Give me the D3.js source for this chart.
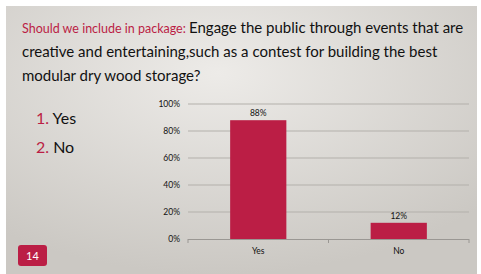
<!DOCTYPE html>
<html>
<head>
<meta charset="utf-8">
<script src="https://cdn.jsdelivr.net/npm/d3@7"></script>
<style>
  body { margin: 0; background: #fff; }
  svg { display: block; }
</style>
</head>
<body>
<script>
const width = 481;
const height = 274;

// data
const categories = ["Yes", "No"];
const values = [88, 12];
const yTicks = [0, 20, 40, 60, 80, 100];
const listItems = ["Yes", "No"];
const titleLines = [
  "Engage the public through events that are",
  "creative and entertaining,such as a contest for building the best",
  "modular dry wood storage?"
];
const red = "#bb1e45";
const font = "Lato, 'Open Sans', sans-serif";

const svg = d3.select("body").append("svg")
  .attr("width", width)
  .attr("height", height);

// 背景グラデーション
const defs = svg.append("defs");
const grad = defs.append("radialGradient")
  .attr("id", "bg")
  .attr("cx", "45%").attr("cy", "25%").attr("r", "75%");
grad.append("stop").attr("offset", "0%").attr("stop-color", "#edebe8");
grad.append("stop").attr("offset", "100%").attr("stop-color", "#cbc8c3");

svg.append("rect")
  .attr("x", 6).attr("y", 6)
  .attr("width", 471).attr("height", 268)
  .attr("fill", "url(#bg)");

// タイトル
const title = svg.append("text")
  .attr("x", 22).attr("y", 33)
  .style("font-family", font);
title.append("tspan")
  .attr("fill", red)
  .style("font-size", "12.5px")
  .text("Should we include in package: ");
title.append("tspan")
  .attr("fill", "#111")
  .style("font-size", "15px")
  .text(titleLines[0]);
titleLines.slice(1).forEach((t, i) => {
  svg.append("text")
    .attr("x", 22).attr("y", 57 + i * 23.5)
    .style("font-family", font)
    .style("font-size", "15px")
    .attr("fill", "#111")
    .text(t);
});

// 箇条書き
listItems.forEach((t, i) => {
  const tx = svg.append("text")
    .attr("x", 36).attr("y", 124 + i * 28.5)
    .style("font-family", font)
    .style("font-size", "16px");
  tx.append("tspan").attr("fill", red).text((i + 1) + ". ");
  tx.append("tspan").attr("fill", "#111").text(t);
});

// ページ番号
svg.append("rect")
  .attr("x", 18).attr("y", 245)
  .attr("width", 29).attr("height", 21)
  .attr("rx", 3)
  .attr("fill", red);
svg.append("text")
  .attr("x", 32.5).attr("y", 259.5)
  .attr("text-anchor", "middle")
  .style("font-family", font)
  .style("font-size", "11px")
  .attr("fill", "#fff")
  .text("14");

// グラフ
const x0 = 188, x1 = 469, y0 = 239, y1 = 104;
const x = d3.scaleBand().domain(categories).range([x0, x1])
  .paddingInner(0.6).paddingOuter(0.3);
const y = d3.scaleLinear().domain([0, 100]).range([y0, y1]);

const g = svg.append("g");

// グリッド線
g.selectAll("line.grid")
  .data(yTicks.filter(d => d > 0))
  .join("line")
  .attr("class", "grid")
  .attr("x1", x0).attr("x2", x1)
  .attr("y1", d => y(d)).attr("y2", d => y(d))
  .attr("stroke", "#b3b0ab")
  .attr("stroke-width", 1);

// y軸ラベル
g.selectAll("text.ylab")
  .data(yTicks)
  .join("text")
  .attr("class", "ylab")
  .attr("x", 180)
  .attr("y", d => y(d) + 3)
  .attr("text-anchor", "end")
  .style("font-family", font)
  .style("font-size", "8.5px")
  .attr("fill", "#111")
  .text(d => d + "%");

// 棒
g.selectAll("rect.bar")
  .data(values)
  .join("rect")
  .attr("class", "bar")
  .attr("x", (d, i) => x(categories[i]))
  .attr("y", d => y(d))
  .attr("width", x.bandwidth())
  .attr("height", d => y0 - y(d))
  .attr("fill", red);

// 値ラベル
g.selectAll("text.val")
  .data(values)
  .join("text")
  .attr("class", "val")
  .attr("x", (d, i) => x(categories[i]) + x.bandwidth() / 2)
  .attr("y", d => y(d) - 4)
  .attr("text-anchor", "middle")
  .style("font-family", font)
  .style("font-size", "8.5px")
  .attr("fill", "#111")
  .text(d => d + "%");

// x軸
g.append("line")
  .attr("x1", x0).attr("x2", x1)
  .attr("y1", y0 + 0.5).attr("y2", y0 + 0.5)
  .attr("stroke", "#9a9793");
g.selectAll("line.tick")
  .data([0, 1, 2])
  .join("line")
  .attr("class", "tick")
  .attr("x1", d => x0 + d * (x1 - x0) / 2).attr("x2", d => x0 + d * (x1 - x0) / 2)
  .attr("y1", y0).attr("y2", y0 + 4)
  .attr("stroke", "#9a9793");
g.selectAll("text.xlab")
  .data(categories)
  .join("text")
  .attr("class", "xlab")
  .attr("x", d => x(d) + x.bandwidth() / 2)
  .attr("y", 254)
  .attr("text-anchor", "middle")
  .style("font-family", font)
  .style("font-size", "8.5px")
  .attr("fill", "#111")
  .text(d => d);
</script>
</body>
</html>
